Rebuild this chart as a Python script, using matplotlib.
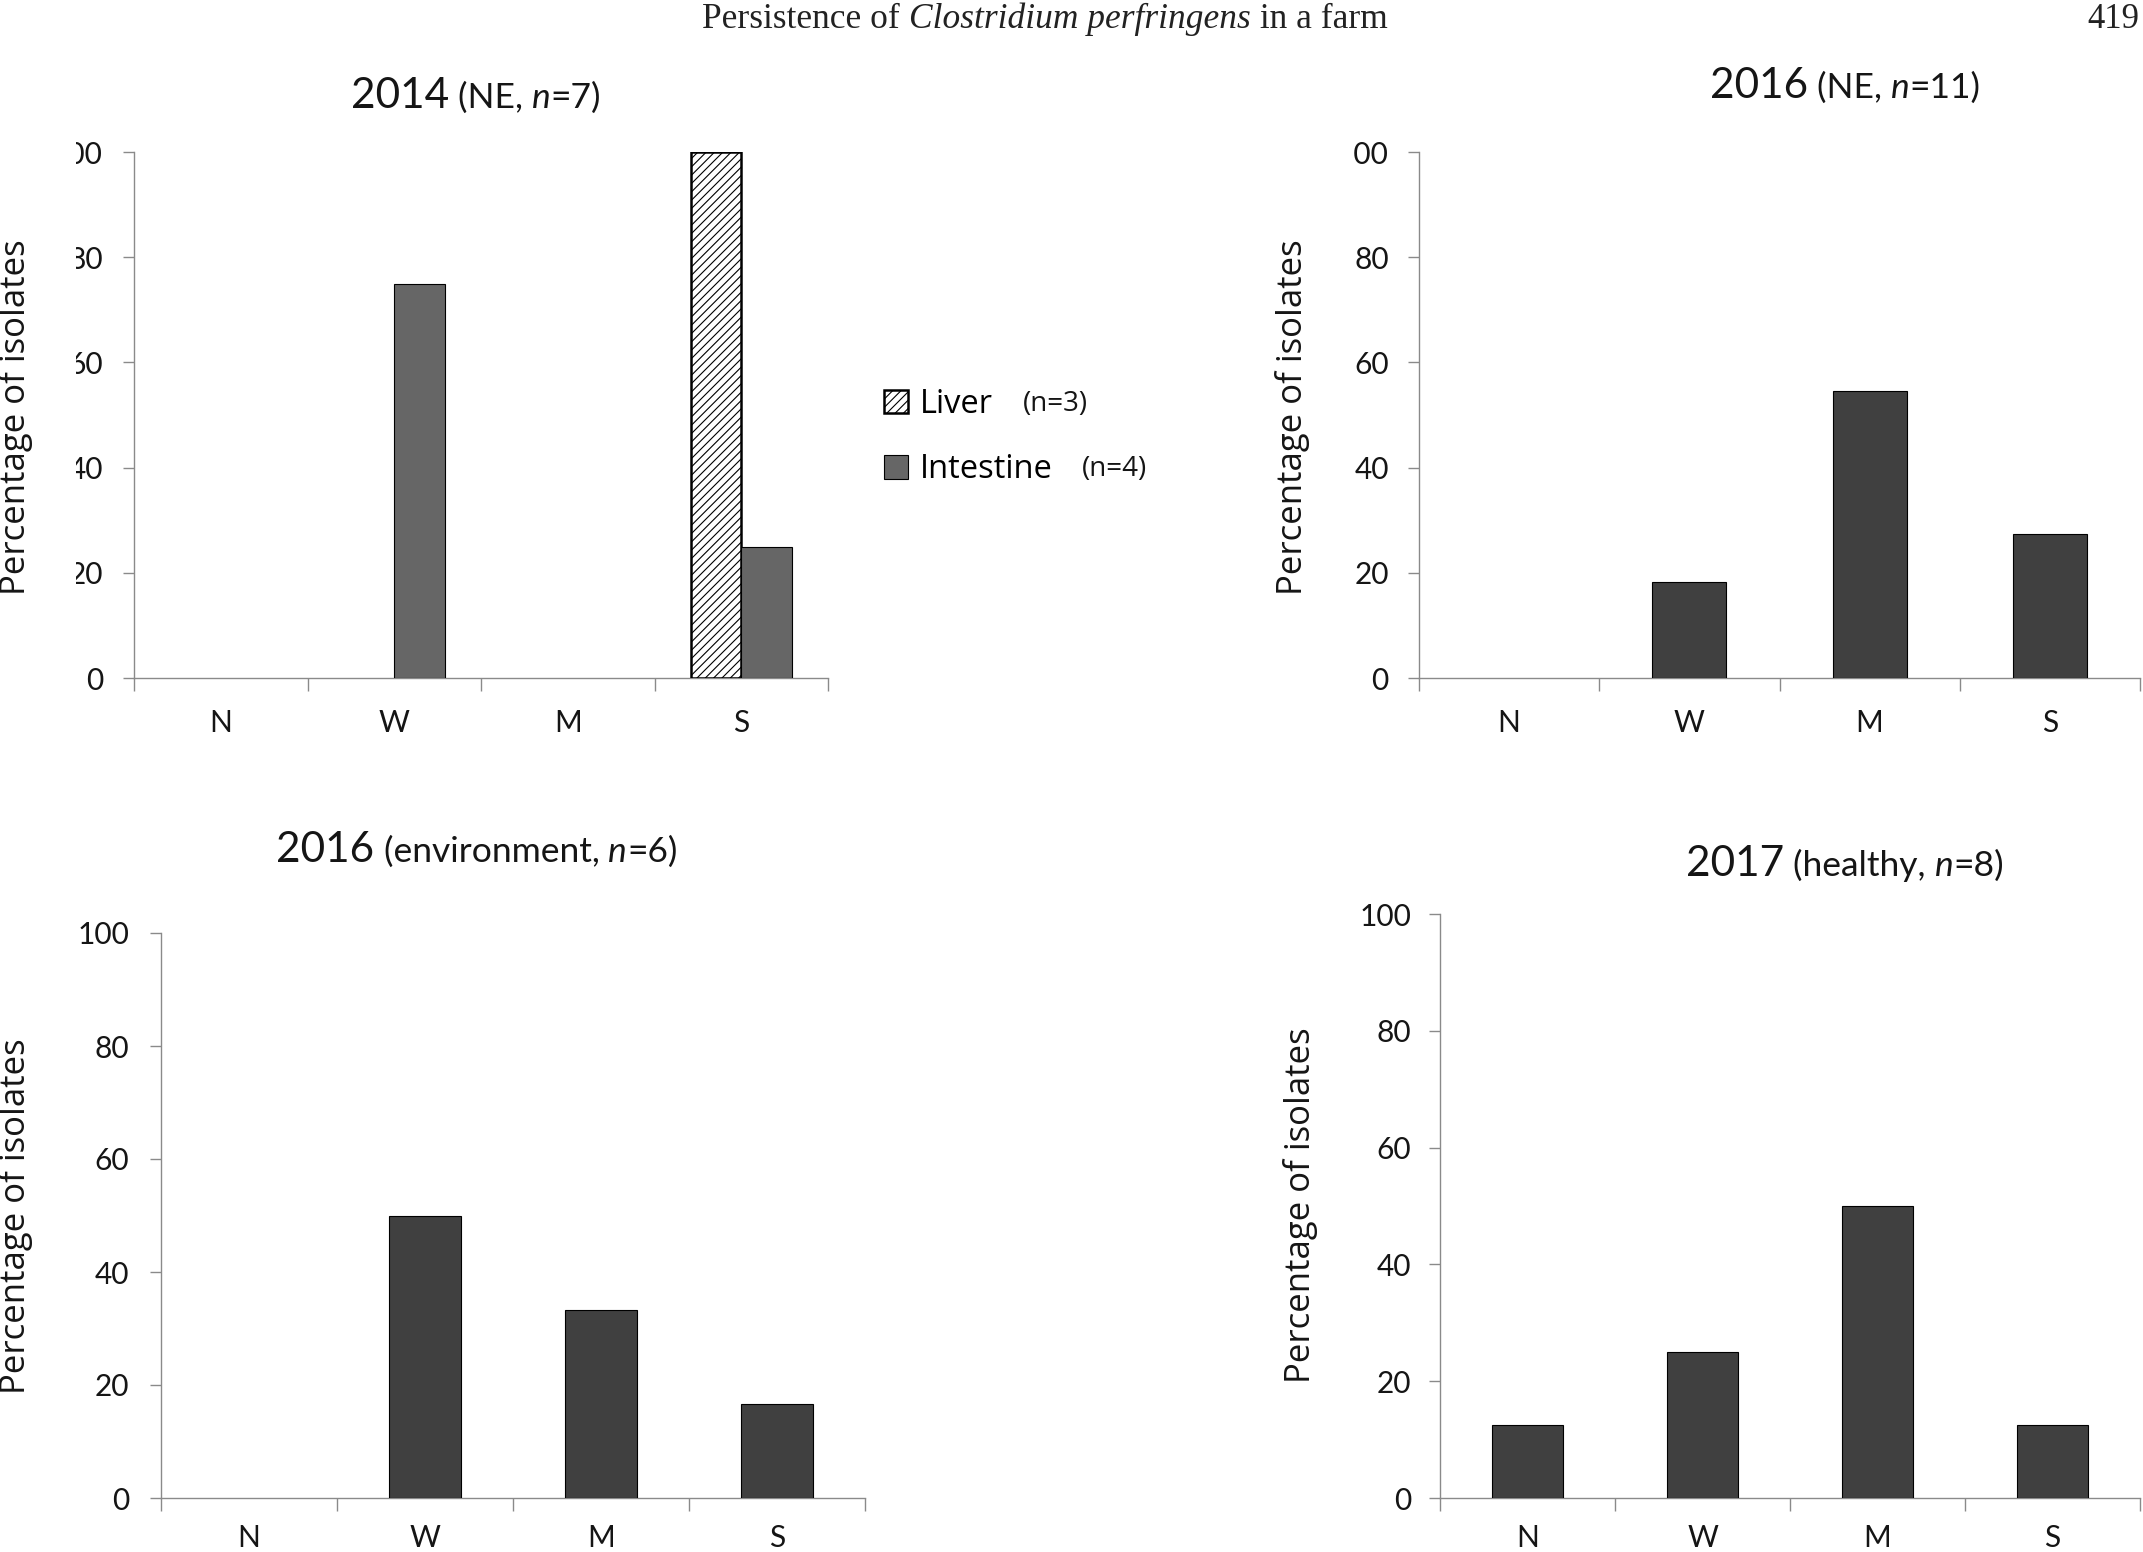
import matplotlib
matplotlib.use('Agg')
import matplotlib.pyplot as plt
import numpy as np
from matplotlib.patches import Patch
from matplotlib.offsetbox import TextArea, HPacker, AnnotationBbox
from matplotlib.transforms import Bbox, TransformedBbox

W, H = 2143, 1552
DPI = 100

# ---------------- data ----------------
categories = ['N', 'W', 'M', 'S']
yticks = [0, 20, 40, 60, 80, 100]

liver_2014 = [0, 0, 0, 100]          # 2014 NE, liver (n=3)
intestine_2014 = [0, 75, 0, 25]      # 2014 NE, intestine (n=4)
ne_2016 = [0, 18.2, 54.5, 27.3]      # 2016 NE (n=11)
env_2016 = [0, 50, 33.3, 16.7]       # 2016 environment (n=6)
healthy_2017 = [12.5, 25, 50, 12.5]  # 2017 healthy (n=8)

header_parts = ['Persistence of ', 'Clostridium perfringens', ' in a farm']
page_number = '419'
ylabel_text = 'Percentage of isolates'
title_2014 = ['2014', ' (NE, ', 'n', '=7)']
title_2016ne = ['2016', ' (NE, ', 'n', '=11)']
title_2016env = ['2016', ' (environment, ', 'n', '=6)']
title_2017 = ['2017', ' (healthy, ', 'n', '=8)']
legend_labels = ['Liver', 'Intestine']
legend_counts = ['(n=3)', '(n=4)']

# ---------------- style ----------------
AXIS_C = '#8a8a8a'
DARK = '#404040'
MID = '#666666'
SANS = 'Lato'
SANS2 = 'Open Sans'
TXT = '#151515'
plt.rcParams['hatch.linewidth'] = 0.8
plt.rcParams['hatch.color'] = '#333333'

fig = plt.figure(figsize=(W / DPI, H / DPI), dpi=DPI)


def px_rect(l, t, r, b):
    return [l / W, 1 - b / H, (r - l) / W, (b - t) / H]


def style_axis(ax, ypad, xpad, clip_x=None):
    ax.set_xlim(-0.5, 3.5)
    ax.set_ylim(0, 100)
    for s in ['top', 'right']:
        ax.spines[s].set_visible(False)
    for s in ['left', 'bottom']:
        ax.spines[s].set_color(AXIS_C)
        ax.spines[s].set_linewidth(1.0)
    ax.set_xticks(np.arange(-0.5, 4, 1))
    ax.set_xticklabels([])
    ax.set_xticks(np.arange(len(categories)), minor=True)
    ax.set_xticklabels(categories, minor=True, fontsize=21.5, family=SANS, color=TXT)
    ax.tick_params(axis='x', which='major', direction='out', length=9.5, width=1.0, color=AXIS_C)
    ax.tick_params(axis='x', which='minor', length=0, pad=xpad)
    ax.set_yticks(yticks)
    ax.set_yticklabels([str(v) for v in yticks], fontsize=21.5, family=SANS, color=TXT)
    ax.tick_params(axis='y', direction='out', length=8, width=1.0, color=AXIS_C, pad=ypad)
    if clip_x is not None:
        cb = TransformedBbox(Bbox([[clip_x / W, 0], [1, 1]]), fig.transFigure)
        for lab in ax.get_yticklabels():
            lab.set_clip_box(cb)
            lab.set_clip_on(True)


def add_title(parts, x, y, big=30.5, small=25.5):
    boxes = [
        TextArea(parts[0], textprops=dict(fontsize=big, family=SANS, color=TXT)),
        TextArea(parts[1], textprops=dict(fontsize=small, family=SANS, color=TXT)),
        TextArea(parts[2], textprops=dict(fontsize=small, family=SANS, style='italic', color=TXT)),
        TextArea(parts[3], textprops=dict(fontsize=small, family=SANS, color=TXT)),
    ]
    pack = HPacker(children=boxes, align='baseline', pad=0, sep=0)
    ab = AnnotationBbox(pack, (x, H - y), xycoords='figure pixels', frameon=False,
                        box_alignment=(0.5, 0.5))
    fig.add_artist(ab)


def add_ylabel(x, y):
    fig.text(x / W, 1 - y / H, ylabel_text, rotation=90, ha='center', va='center',
             fontsize=25, family=SANS2, color=TXT)


x = np.arange(len(categories))

# ---- 2014 (NE, n=7) ----
ax1 = fig.add_axes(px_rect(134, 152, 828, 678))
bw = 0.29
ax1.bar(x - bw / 2, liver_2014, bw, facecolor='white', edgecolor='black', hatch='////',
        linewidth=[1.8 if v > 0 else 0 for v in liver_2014], zorder=3)
ax1.bar(x + bw / 2, intestine_2014, bw, facecolor=MID, edgecolor='black',
        linewidth=[0.8 if v > 0 else 0 for v in intestine_2014], zorder=3)
style_axis(ax1, ypad=14.4, xpad=22.5, clip_x=76)
add_title(title_2014, 476, 96)
add_ylabel(16, 417)

# legend
handles = [Patch(facecolor='white', edgecolor='black', hatch='////', linewidth=1.8),
           Patch(facecolor=MID, edgecolor='black', linewidth=0.8)]
fig.legend(handles, legend_labels, loc='center left',
           bbox_to_anchor=(884 / W, 1 - 437 / H), frameon=False, borderpad=0,
           borderaxespad=0, handlelength=0.72, handleheight=0.72, handletextpad=0.38,
           labelspacing=1.0, prop=dict(family=SANS2, size=23.5))
fig.text(1023 / W, 1 - 404 / H, legend_counts[0], ha='left', va='center',
         fontsize=20, family=SANS2, color=TXT)
fig.text(1082 / W, 1 - 469 / H, legend_counts[1], ha='left', va='center',
         fontsize=20, family=SANS2, color=TXT)

# ---- 2016 (NE, n=11) ----
ax2 = fig.add_axes(px_rect(1419, 152, 2140, 678))
bw = 0.41
ax2.bar(x, ne_2016, bw, facecolor=DARK, edgecolor='black',
        linewidth=[0.8 if v > 0 else 0 for v in ne_2016], zorder=3)
style_axis(ax2, ypad=13.7, xpad=22.5, clip_x=1353)
add_title(title_2016ne, 1845, 86)
add_ylabel(1292, 417)

# ---- 2016 (environment, n=6) ----
ax3 = fig.add_axes(px_rect(161, 933, 865, 1498))
ax3.bar(x, env_2016, bw, facecolor=DARK, edgecolor='black',
        linewidth=[0.8 if v > 0 else 0 for v in env_2016], zorder=3)
style_axis(ax3, ypad=15, xpad=19)
add_title(title_2016env, 477, 850)
add_ylabel(16, 1216)

# ---- 2017 (healthy, n=8) ----
ax4 = fig.add_axes(px_rect(1440, 914, 2140, 1498))
ax4.bar(x, healthy_2017, bw, facecolor=DARK, edgecolor='black',
        linewidth=[0.8 if v > 0 else 0 for v in healthy_2017], zorder=3)
style_axis(ax4, ypad=12.6, xpad=19)
add_title(title_2017, 1845, 864)
add_ylabel(1301, 1205)

# ---- running header ----
hboxes = [
    TextArea(header_parts[0], textprops=dict(fontsize=25.5, family='Liberation Serif', color='#222222')),
    TextArea(header_parts[1], textprops=dict(fontsize=25.5, family='Liberation Serif', style='italic', color='#222222')),
    TextArea(header_parts[2], textprops=dict(fontsize=25.5, family='Liberation Serif', color='#222222')),
]
hpack = HPacker(children=hboxes, align='baseline', pad=0, sep=0)
fig.add_artist(AnnotationBbox(hpack, (1045, H - 19), xycoords='figure pixels',
                              frameon=False, box_alignment=(0.5, 0.5)))
fig.text(2139 / W, 1 - 19 / H, page_number, ha='right', va='center', fontsize=25,
         family='Liberation Serif', color='#222222')

fig.savefig('out.png', dpi=DPI)
